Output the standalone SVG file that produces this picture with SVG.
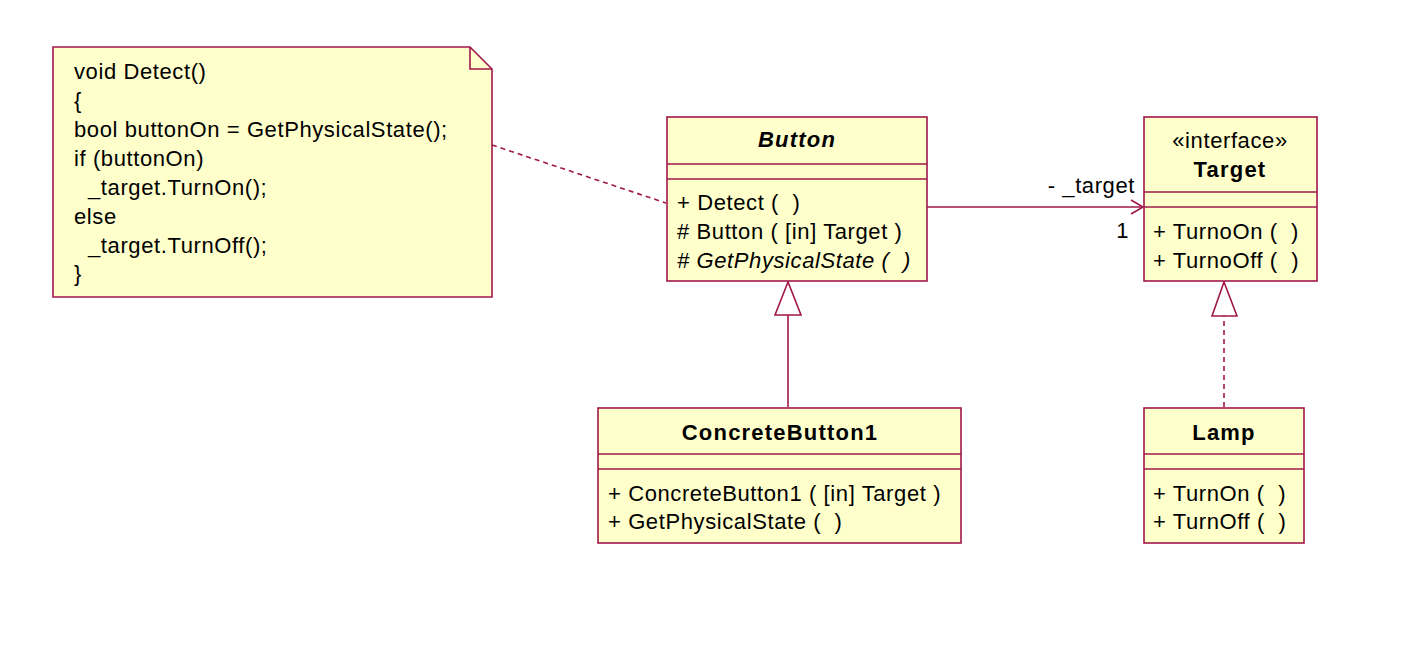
<svg xmlns="http://www.w3.org/2000/svg" width="1415" height="656" viewBox="0 0 1415 656">
<style>
.box{fill:#ffffcc;stroke:#a1174a;stroke-width:1.6}
.ln{stroke:#a1174a;stroke-width:1.6;fill:none}
.dash{stroke:#a1174a;stroke-width:1.6;fill:none;stroke-dasharray:5,4}
.tri{fill:#ffffff;stroke:#a1174a;stroke-width:1.6}
text{font-family:"Liberation Sans",Arial,sans-serif;font-size:22px;letter-spacing:0.6px;fill:#000;white-space:pre}
.b{font-weight:bold;letter-spacing:1.2px}
.c{text-anchor:middle}
.i{font-style:italic}
</style>
<rect width="1415" height="656" fill="#ffffff"/>
<g id="connectors">
<line class="dash" x1="492" y1="145" x2="666" y2="203"/>
<line class="ln" x1="927" y1="207" x2="1143" y2="207"/>
<polyline class="ln" points="1131,200 1143,207 1131,214"/>
<text x="1135" y="193" style="text-anchor:end">- _target</text>
<text x="1129" y="238" style="text-anchor:end">1</text>
<line class="ln" x1="788" y1="407" x2="788" y2="315"/>
<polygon class="tri" points="788,282 775,315 801,315"/>
<line class="dash" x1="1224" y1="407" x2="1224" y2="316"/>
<polygon class="tri" points="1224,282 1212,316 1237,316"/>
</g>
<g id="note">
<path class="box" d="M53,47 L470,47 L492,69 L492,297 L53,297 Z"/>
<path class="ln" d="M470,47 L470,69 L492,69"/>
<text x="74" y="79">void Detect()</text>
<text x="74" y="108">{</text>
<text x="74" y="137">bool buttonOn = GetPhysicalState();</text>
<text x="74" y="166">if (buttonOn)</text>
<text x="88" y="195">_target.TurnOn();</text>
<text x="74" y="224">else</text>
<text x="88" y="253">_target.TurnOff();</text>
<text x="74" y="281">}</text>
</g>
<g id="Button">
<rect class="box" x="667" y="117" width="260" height="164"/>
<line class="ln" x1="667" y1="164" x2="927" y2="164"/>
<line class="ln" x1="667" y1="179" x2="927" y2="179"/>
<text class="b i c" x="797" y="147">Button</text>
<text x="677" y="210">+ Detect (  )</text>
<text x="677" y="239"># Button ( [in] Target )</text>
<text class="i" x="677" y="268"># GetPhysicalState (  )</text>
</g>
<g id="Target">
<rect class="box" x="1144" y="117" width="173" height="164"/>
<line class="ln" x1="1144" y1="192" x2="1317" y2="192"/>
<line class="ln" x1="1144" y1="207" x2="1317" y2="207"/>
<text class="c" x="1230" y="148">«interface»</text>
<text class="b c" x="1230" y="177">Target</text>
<text x="1153" y="239">+ TurnoOn (  )</text>
<text x="1153" y="268">+ TurnoOff (  )</text>
</g>
<g id="ConcreteButton1">
<rect class="box" x="598" y="408" width="363" height="135"/>
<line class="ln" x1="598" y1="454" x2="961" y2="454"/>
<line class="ln" x1="598" y1="469" x2="961" y2="469"/>
<text class="b c" x="780" y="440">ConcreteButton1</text>
<text x="608" y="501">+ ConcreteButton1 ( [in] Target )</text>
<text x="608" y="529">+ GetPhysicalState (  )</text>
</g>
<g id="Lamp">
<rect class="box" x="1144" y="408" width="160" height="135"/>
<line class="ln" x1="1144" y1="454" x2="1304" y2="454"/>
<line class="ln" x1="1144" y1="469" x2="1304" y2="469"/>
<text class="b c" x="1224" y="440">Lamp</text>
<text x="1153" y="501">+ TurnOn (  )</text>
<text x="1153" y="529">+ TurnOff (  )</text>
</g>
</svg>
